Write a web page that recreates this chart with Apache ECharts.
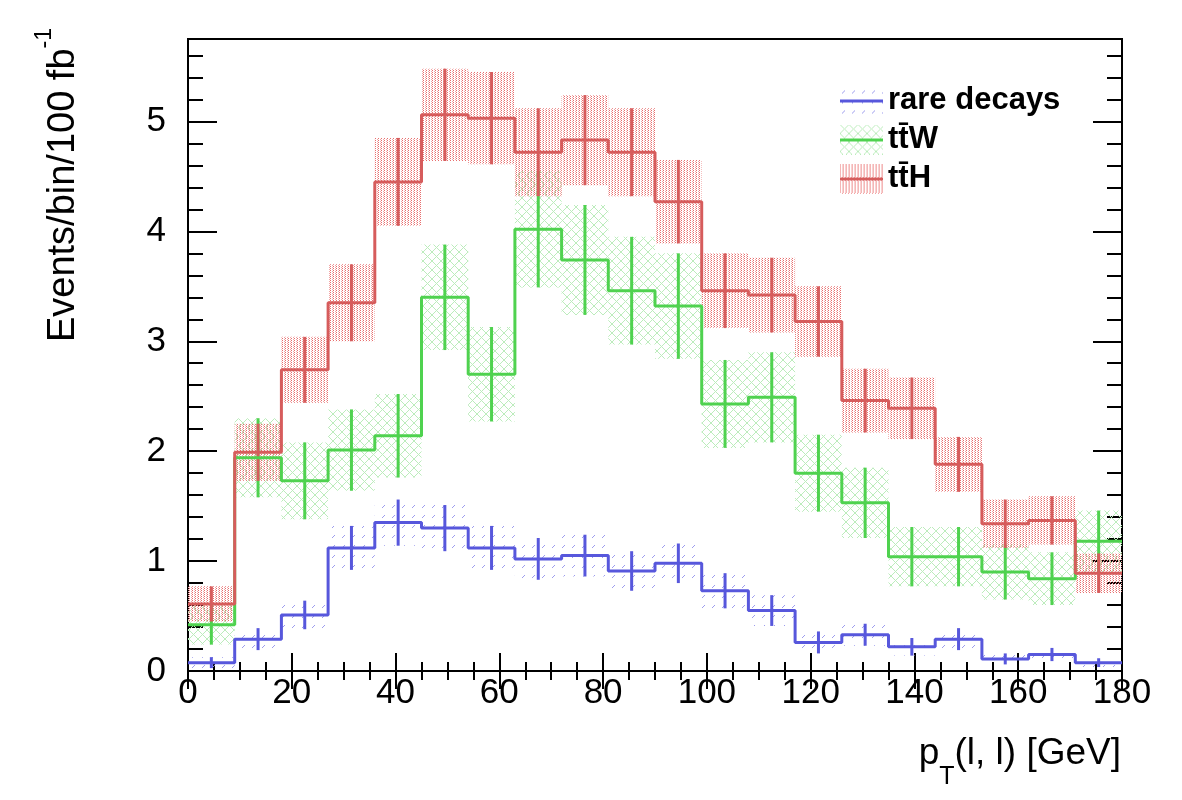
<!DOCTYPE html>
<html>
<head>
<meta charset="utf-8">
<script src="https://cdn.jsdelivr.net/npm/echarts@6.0.0/dist/echarts.min.js"></script>
<style>
  html, body { margin: 0; padding: 0; background: #fff; }
  #chart { width: 1182px; height: 800px; }
</style>
</head>
<body>
<div id="chart"></div>
<script>
// bin edges of the pT(l,l) histogram [GeV]
const binEdges = [0, 9, 18, 27, 36, 45, 54, 63, 72, 81, 90, 99, 108, 117, 126, 135, 144, 153, 162, 171, 180];

// ttH
const tthVal = [0.61, 1.99, 2.74, 3.35, 4.45, 5.06, 5.03, 4.72, 4.83, 4.72, 4.27, 3.46, 3.42, 3.18, 2.46, 2.39, 1.88, 1.34, 1.37, 0.89];
const tthErr = [0.16, 0.26, 0.30, 0.35, 0.40, 0.42, 0.42, 0.40, 0.41, 0.40, 0.38, 0.34, 0.34, 0.32, 0.29, 0.28, 0.25, 0.22, 0.22, 0.18];
// ttW
const ttwVal = [0.42, 1.94, 1.73, 2.01, 2.14, 3.40, 2.70, 4.02, 3.74, 3.46, 3.32, 2.43, 2.49, 1.80, 1.53, 1.04, 1.04, 0.90, 0.84, 1.18];
const ttwErr = [0.18, 0.36, 0.35, 0.37, 0.38, 0.48, 0.43, 0.53, 0.50, 0.49, 0.48, 0.40, 0.41, 0.35, 0.32, 0.27, 0.27, 0.25, 0.24, 0.28];
// rare decays
const rareVal = [0.076, 0.29, 0.51, 1.12, 1.35, 1.30, 1.12, 1.02, 1.05, 0.91, 0.98, 0.73, 0.55, 0.26, 0.33, 0.22, 0.29, 0.11, 0.15, 0.076];
const rareErr = [0.05, 0.10, 0.13, 0.20, 0.21, 0.21, 0.20, 0.19, 0.19, 0.18, 0.18, 0.16, 0.14, 0.10, 0.10, 0.08, 0.10, 0.05, 0.06, 0.04];

const xTicks = [0, 20, 40, 60, 80, 100, 120, 140, 160, 180];
const yTicks = [0, 1, 2, 3, 4, 5];

const FONT = '"Liberation Sans", Arial, Helvetica, sans-serif';
const names = { rare: 'rare decays', ttw: 't\u0074\u0304W', tth: 't\u0074\u0304H' };
const colors = { rare: '#5757dc', ttw: '#4fd24f', tth: '#d65c5c' };

// fill patterns like the ROOT hatch styles
function patternCanvas(kind) {
    const c = document.createElement('canvas');
    let ctx;
    if (kind === 'dots') {
        c.width = 3; c.height = 2;
        ctx = c.getContext('2d');
        ctx.fillStyle = 'rgb(232,110,110)';
        ctx.fillRect(0, 0, 1, 1);
        ctx.fillStyle = 'rgb(242,165,165)';
        ctx.fillRect(2, 1, 1, 1);
    } else if (kind === 'cross') {
        c.width = 9; c.height = 9;
        ctx = c.getContext('2d');
        ctx.strokeStyle = 'rgb(188,236,188)';
        ctx.lineWidth = 1;
        ctx.beginPath();
        ctx.moveTo(0, 0); ctx.lineTo(9, 9);
        ctx.moveTo(9, 0); ctx.lineTo(0, 9);
        ctx.stroke();
    } else {
        c.width = 10; c.height = 10;
        ctx = c.getContext('2d');
        ctx.strokeStyle = 'rgba(145,145,236,0.9)';
        ctx.lineWidth = 1;
        ctx.beginPath();
        ctx.moveTo(2, 8); ctx.lineTo(5, 5);
        ctx.stroke();
    }
    return c;
}

const patterns = {
    rare: { image: patternCanvas('dash'), repeat: 'repeat' },
    ttw: { image: patternCanvas('cross'), repeat: 'repeat' },
    tth: { image: patternCanvas('dots'), repeat: 'repeat' }
};

// legend icon: hatched box with the line through it
function legendIcon(key) {
    const c = document.createElement('canvas');
    c.width = 43; c.height = 30;
    const ctx = c.getContext('2d');
    ctx.fillStyle = ctx.createPattern(patterns[key].image, 'repeat');
    ctx.fillRect(0, 0, 43, 30);
    ctx.fillStyle = colors[key];
    ctx.fillRect(0, 14, 43, 3);
    return 'image://' + c.toDataURL();
}

function stepData(vals) {
    return binEdges.map((e, i) => [e, vals[Math.min(i, vals.length - 1)]]);
}
function errData(vals, errs) {
    return vals.map((v, i) => [binEdges[i], binEdges[i + 1], v - errs[i], v + errs[i], v]);
}

function boxSeries(key, vals, errs) {
    return {
        type: 'custom',
        name: key + '-box',
        z: 1,
        silent: true,
        data: errData(vals, errs),
        encode: { x: [0, 1], y: [2, 3] },
        renderItem: function(params, api) {
            const p0 = api.coord([api.value(0), api.value(3)]);
            const p1 = api.coord([api.value(1), api.value(2)]);
            return {
                type: 'rect',
                shape: { x: p0[0], y: p0[1], width: p1[0] - p0[0], height: p1[1] - p0[1] },
                style: { fill: patterns[key] }
            };
        }
    };
}

function barSeries(key, vals, errs) {
    return {
        type: 'custom',
        name: key + '-err',
        z: 3,
        silent: true,
        data: errData(vals, errs),
        encode: { x: [0, 1], y: [2, 3] },
        renderItem: function(params, api) {
            const xc = (api.value(0) + api.value(1)) / 2;
            const lo = api.coord([xc, api.value(2)]);
            const hi = api.coord([xc, api.value(3)]);
            return {
                type: 'line',
                shape: { x1: lo[0], y1: lo[1], x2: hi[0], y2: hi[1] },
                style: { stroke: colors[key], lineWidth: 3 }
            };
        }
    };
}

function lineSeries(key, vals) {
    return {
        type: 'line',
        name: names[key],
        z: 4,
        step: 'end',
        symbol: 'none',
        silent: true,
        data: stepData(vals),
        lineStyle: { color: colors[key], width: 3 },
        itemStyle: { color: colors[key] }
    };
}

function xAxisDef(pos, labels) {
    return {
        type: 'value', position: pos, min: 0, max: 180, interval: 20,
        axisLine: { show: false },
        splitLine: { show: false },
        axisTick: { inside: true, length: 18, lineStyle: { color: '#000', width: 2 } },
        minorTick: { show: true, splitNumber: 4, length: 9, lineStyle: { color: '#000', width: 2 } },
        minorSplitLine: { show: false },
        axisLabel: {
            show: labels, margin: 5, color: '#000', fontSize: 35, fontFamily: FONT,
            formatter: v => xTicks.includes(v) ? String(v) : ''
        }
    };
}

function yAxisDef(pos, major, labels) {
    return {
        type: 'value', position: pos, min: 0, max: 5.75, interval: major ? 1 : 0.2,
        axisLine: { show: false },
        splitLine: { show: false },
        axisTick: { inside: true, length: major ? 29 : 15, lineStyle: { color: '#000', width: 2 } },
        axisLabel: {
            show: labels, margin: 22, color: '#000', fontSize: 35, fontFamily: FONT,
            formatter: v => yTicks.includes(v) ? String(v) : ''
        }
    };
}

const chart = echarts.init(document.getElementById('chart'), null, { renderer: 'canvas' });

const option = {
    animation: false,
    backgroundColor: '#fff',
    grid: {
        left: 188, right: 60, top: 39, bottom: 129,
        show: true, borderColor: '#000', borderWidth: 2, backgroundColor: 'transparent'
    },
    xAxis: [xAxisDef('bottom', true), xAxisDef('top', false)],
    yAxis: [
        yAxisDef('left', true, true),
        yAxisDef('left', false, false),
        yAxisDef('right', true, false),
        yAxisDef('right', false, false)
    ],
    legend: {
        orient: 'vertical',
        left: 835, top: 80,
        itemWidth: 43, itemHeight: 30, itemGap: 8,
        selectedMode: false,
        textStyle: { fontSize: 31, fontWeight: 'bold', color: '#000', fontFamily: FONT, padding: [0, 0, 0, 0] },
        data: [
            { name: names.rare, icon: legendIcon('rare') },
            { name: names.ttw, icon: legendIcon('ttw') },
            { name: names.tth, icon: legendIcon('tth') }
        ]
    },
    graphic: [
        {
            type: 'text', x: 1121, y: 735, silent: true,
            style: {
                text: '{m|p}{s|T}{m|(l, l) [GeV]}',
                align: 'right', verticalAlign: 'top',
                rich: {
                    m: { fontSize: 37, fontFamily: FONT, fill: '#000', verticalAlign: 'top' },
                    s: { fontSize: 25, fontFamily: FONT, fill: '#000', verticalAlign: 'top', padding: [30, 0, 0, 0] }
                }
            }
        },
        {
            type: 'text', x: 58, y: 28, rotation: Math.PI / 2, silent: true,
            style: {
                text: '{m|Events/bin/100 fb}{p|-1}',
                align: 'right', verticalAlign: 'middle',
                rich: {
                    m: { fontSize: 38, fontFamily: FONT, fill: '#000', verticalAlign: 'top', padding: [12, 0, 0, 0] },
                    p: { fontSize: 23, fontFamily: FONT, fill: '#000', verticalAlign: 'top' }
                }
            }
        }
    ],
    series: [
        boxSeries('rare', rareVal, rareErr),
        boxSeries('ttw', ttwVal, ttwErr),
        boxSeries('tth', tthVal, tthErr),
        barSeries('rare', rareVal, rareErr),
        barSeries('ttw', ttwVal, ttwErr),
        barSeries('tth', tthVal, tthErr),
        lineSeries('rare', rareVal),
        lineSeries('ttw', ttwVal),
        lineSeries('tth', tthVal)
    ]
};

chart.setOption(option);
window.addEventListener('resize', function() {
    chart.resize();
});
</script>
</body>
</html>
